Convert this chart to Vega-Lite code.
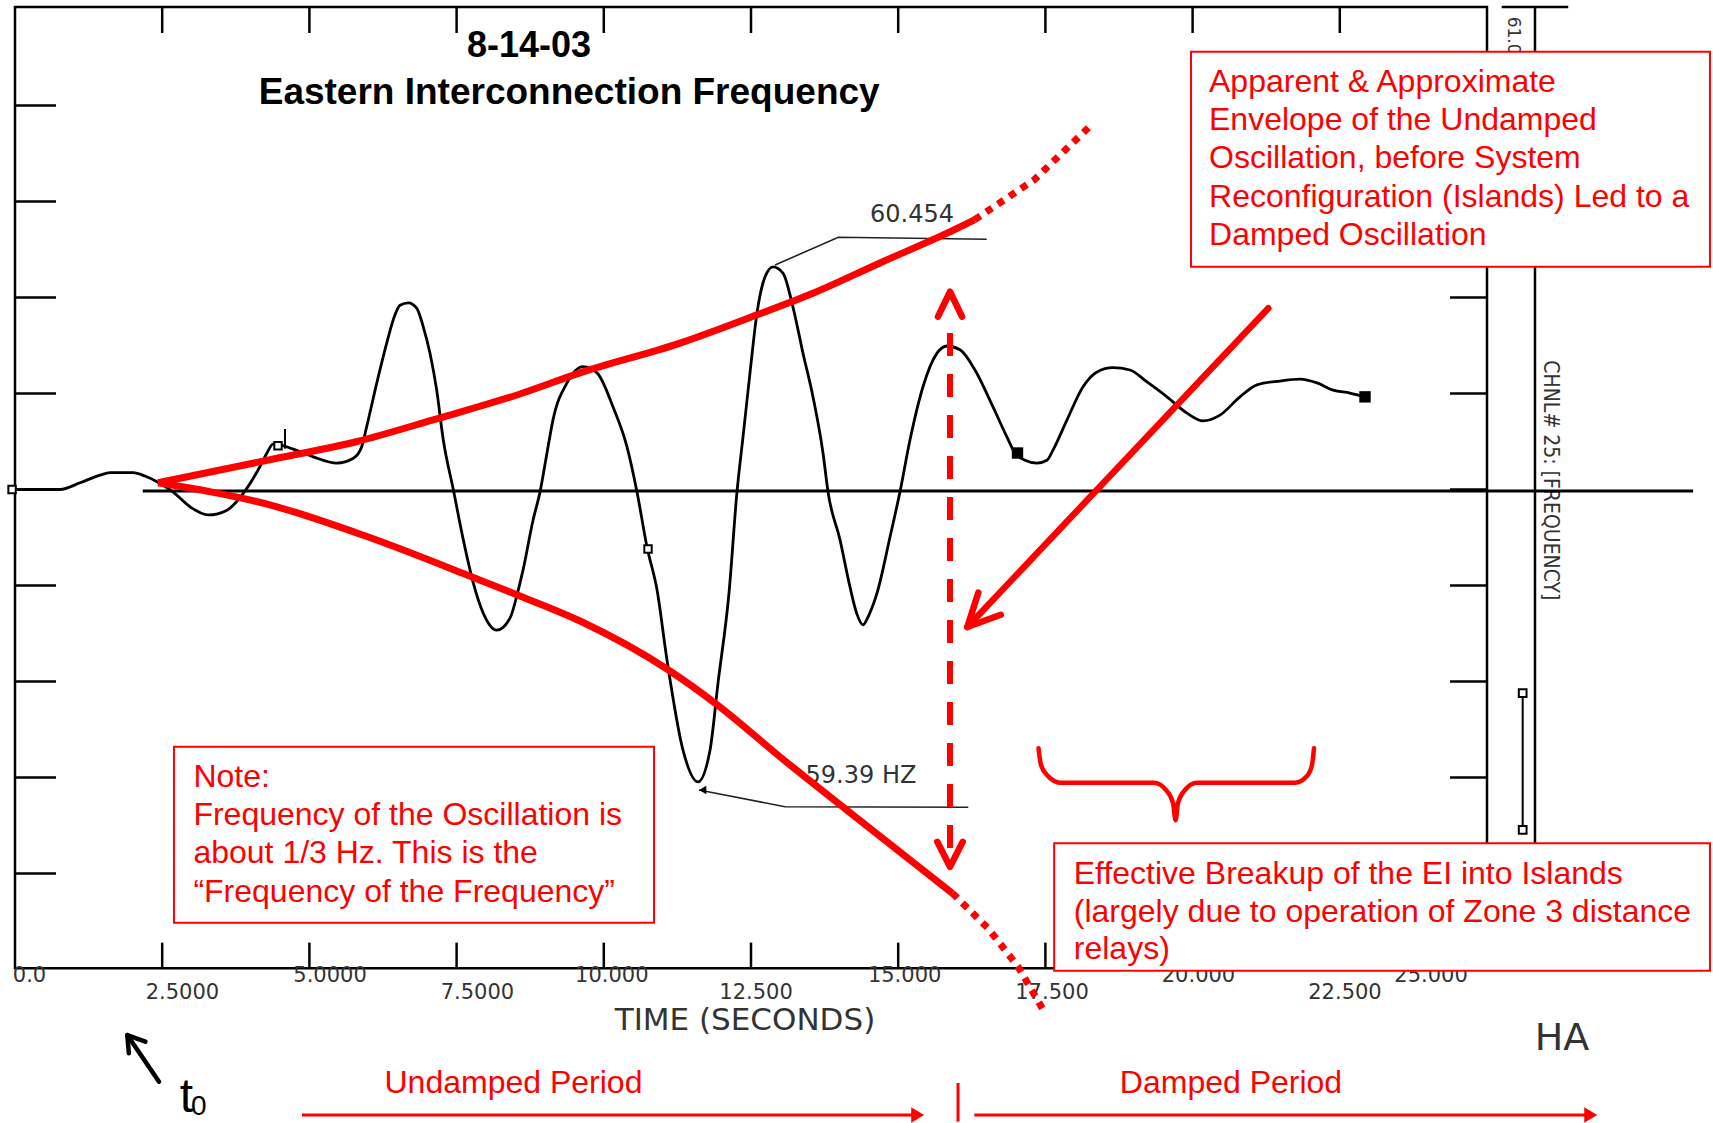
{
  "$schema": "https://vega.github.io/schema/vega-lite/v6.json",
  "width": 1472,
  "height": 960,
  "autosize": {"type": "none"},
  "padding": {"left": 15, "top": 9.5, "right": 226, "bottom": 153.5},
  "background": "white",
  "config": {"view": {"stroke": null}, "axis": {"disable": true}},
  "data": {"values": [{}]},
  "datasets": {
    "trace": [
      {"t": 0, "f": 60.0}, {"t": 0.764, "f": 60.0}, {"t": 1.104, "f": 60.014}, {"t": 1.444, "f": 60.03}, {"t": 1.613, "f": 60.035},
      {"t": 2.004, "f": 60.035}, {"t": 2.208, "f": 60.028}, {"t": 2.412, "f": 60.016}, {"t": 2.683, "f": 59.995}, {"t": 2.972, "f": 59.964},
      {"t": 3.283, "f": 59.947}, {"t": 3.601, "f": 59.957}, {"t": 3.877, "f": 59.992}, {"t": 4.161, "f": 60.048}, {"t": 4.275, "f": 60.075},
      {"t": 4.387, "f": 60.095}, {"t": 4.727, "f": 60.084}, {"t": 5.066, "f": 60.068}, {"t": 5.464, "f": 60.055}, {"t": 5.746, "f": 60.065},
      {"t": 5.888, "f": 60.089}, {"t": 5.973, "f": 60.131}, {"t": 6.143, "f": 60.221}, {"t": 6.313, "f": 60.305}, {"t": 6.454, "f": 60.364},
      {"t": 6.539, "f": 60.384}, {"t": 6.68, "f": 60.389}, {"t": 6.822, "f": 60.378}, {"t": 6.934, "f": 60.339}, {"t": 7.048, "f": 60.284},
      {"t": 7.162, "f": 60.207}, {"t": 7.274, "f": 60.103}, {"t": 7.444, "f": 60.0}, {"t": 7.614, "f": 59.895}, {"t": 7.784, "f": 59.805},
      {"t": 7.954, "f": 59.742}, {"t": 8.181, "f": 59.707}, {"t": 8.407, "f": 59.732}, {"t": 8.548, "f": 59.791}, {"t": 8.628, "f": 59.832},
      {"t": 8.798, "f": 59.936}, {"t": 8.917, "f": 59.995}, {"t": 9.035, "f": 60.076}, {"t": 9.137, "f": 60.145}, {"t": 9.375, "f": 60.222},
      {"t": 9.647, "f": 60.256}, {"t": 9.885, "f": 60.243}, {"t": 10.157, "f": 60.172}, {"t": 10.394, "f": 60.089}, {"t": 10.564, "f": 59.995},
      {"t": 10.734, "f": 59.88}, {"t": 10.904, "f": 59.791}, {"t": 11.073, "f": 59.645}, {"t": 11.345, "f": 59.457}, {"t": 11.6, "f": 59.391},
      {"t": 11.804, "f": 59.457}, {"t": 11.94, "f": 59.597}, {"t": 12.126, "f": 59.784}, {"t": 12.262, "f": 59.995}, {"t": 12.364, "f": 60.109},
      {"t": 12.483, "f": 60.243}, {"t": 12.602, "f": 60.368}, {"t": 12.738, "f": 60.443}, {"t": 12.874, "f": 60.464}, {"t": 13.043, "f": 60.451},
      {"t": 13.213, "f": 60.38}, {"t": 13.383, "f": 60.284}, {"t": 13.553, "f": 60.193}, {"t": 13.723, "f": 60.076}, {"t": 13.808, "f": 59.995},
      {"t": 14.012, "f": 59.895}, {"t": 14.181, "f": 59.797}, {"t": 14.295, "f": 59.742}, {"t": 14.402, "f": 59.718}, {"t": 14.504, "f": 59.739},
      {"t": 14.64, "f": 59.784}, {"t": 14.861, "f": 59.901}, {"t": 15.03, "f": 59.995}, {"t": 15.2, "f": 60.103}, {"t": 15.421, "f": 60.214},
      {"t": 15.659, "f": 60.284}, {"t": 15.829, "f": 60.299}, {"t": 16.05, "f": 60.291}, {"t": 16.304, "f": 60.249}, {"t": 16.61, "f": 60.172},
      {"t": 16.848, "f": 60.109}, {"t": 16.984, "f": 60.076}, {"t": 17.154, "f": 60.061}, {"t": 17.357, "f": 60.055}, {"t": 17.527, "f": 60.061},
      {"t": 17.629, "f": 60.082}, {"t": 17.867, "f": 60.145}, {"t": 18.139, "f": 60.214}, {"t": 18.376, "f": 60.245}, {"t": 18.648, "f": 60.254},
      {"t": 18.937, "f": 60.249}, {"t": 19.226, "f": 60.224}, {"t": 19.565, "f": 60.193}, {"t": 19.905, "f": 60.159}, {"t": 20.177, "f": 60.143},
      {"t": 20.465, "f": 60.155}, {"t": 20.805, "f": 60.193}, {"t": 21.094, "f": 60.218}, {"t": 21.484, "f": 60.226}, {"t": 21.824, "f": 60.23},
      {"t": 22.113, "f": 60.222}, {"t": 22.385, "f": 60.207}, {"t": 22.673, "f": 60.201}, {"t": 22.928, "f": 60.193}
    ],
    "xticks": [{"t": 2.5}, {"t": 5}, {"t": 7.5}, {"t": 10}, {"t": 12.5}, {"t": 15}, {"t": 17.5}, {"t": 20}, {"t": 22.5}],
    "yticks": [{"f": 59.2}, {"f": 59.4}, {"f": 59.6}, {"f": 59.8}, {"f": 60.0}, {"f": 60.2}, {"f": 60.4}, {"f": 60.6}, {"f": 60.8}],
    "xlabels": [
      {"t": 0, "lx": 0.246, "label": "0.0"}, {"t": 2.5, "lx": 2.843, "label": "2.5000"}, {"t": 5, "lx": 5.35, "label": "5.0000"},
      {"t": 7.5, "lx": 7.853, "label": "7.5000"}, {"t": 10, "lx": 10.136, "label": "10.000"}, {"t": 12.5, "lx": 12.585, "label": "12.500"},
      {"t": 15, "lx": 15.109, "label": "15.000"}, {"t": 17.5, "lx": 17.612, "label": "17.500"}, {"t": 20, "lx": 20.1, "label": "20.000"},
      {"t": 22.5, "lx": 22.588, "label": "22.500"}, {"t": 25, "lx": 24.049, "label": "25.000"}
    ],
    "openmarks": [{"t": -0.05, "f": 60.0}, {"t": 4.467, "f": 60.091}, {"t": 10.751, "f": 59.876}],
    "filledmarks": [{"t": 17.026, "f": 60.076}, {"t": 22.928, "f": 60.193}],
    "scalebar": [{"f": 59.576}, {"f": 59.291}],
    "leaders": [
      {"g": "a", "t": 12.908, "f": 60.4677}, {"g": "a", "t": 13.983, "f": 60.5254}, {"g": "a", "t": 16.503, "f": 60.5213},
      {"g": "b", "t": 11.617, "f": 59.374}, {"g": "b", "t": 13.077, "f": 59.339}, {"g": "b", "t": 16.191, "f": 59.338}
    ],
    "blackarrow": [
      {"g": "s", "t": 2.446, "f": 58.7663}, {"g": "s", "t": 1.907, "f": 58.8635},
      {"g": "h", "t": 1.934, "f": 58.8254}, {"g": "h", "t": 1.907, "f": 58.8635}, {"g": "h", "t": 2.214, "f": 58.8496}
    ],
    "env": [
      {"g": "up", "t": 2.429, "f": 60.014}, {"g": "up", "t": 4.45, "f": 60.065}, {"g": "up", "t": 5.808, "f": 60.1}, {"g": "up", "t": 7.099, "f": 60.145},
      {"g": "up", "t": 8.577, "f": 60.199}, {"g": "up", "t": 9.596, "f": 60.243}, {"g": "up", "t": 11.294, "f": 60.305}, {"g": "up", "t": 12.602, "f": 60.364},
      {"g": "up", "t": 13.553, "f": 60.409}, {"g": "up", "t": 14.691, "f": 60.472}, {"g": "up", "t": 15.829, "f": 60.534}, {"g": "up", "t": 16.297, "f": 60.562},
      {"g": "lo", "t": 2.429, "f": 60.014}, {"g": "lo", "t": 4.45, "f": 59.964}, {"g": "lo", "t": 5.978, "f": 59.902}, {"g": "lo", "t": 7.677, "f": 59.822},
      {"g": "lo", "t": 8.577, "f": 59.778}, {"g": "lo", "t": 9.596, "f": 59.726}, {"g": "lo", "t": 11.073, "f": 59.626}, {"g": "lo", "t": 11.973, "f": 59.547},
      {"g": "lo", "t": 12.993, "f": 59.443}, {"g": "lo", "t": 14.13, "f": 59.332}, {"g": "lo", "t": 15.92, "f": 59.159}
    ],
    "envdot": [
      {"g": "up", "t": 16.297, "f": 60.562}, {"g": "up", "t": 17.307, "f": 60.645}, {"g": "up", "t": 18.3, "f": 60.762},
      {"g": "lo", "t": 15.92, "f": 59.159}, {"g": "lo", "t": 16.525, "f": 59.086}, {"g": "lo", "t": 17.035, "f": 59.006}, {"g": "lo", "t": 17.447, "f": 58.919}
    ],
    "redarrows": [
      {"g": "upchev", "t": 15.676, "f": 60.36}, {"g": "upchev", "t": 15.88, "f": 60.412}, {"g": "upchev", "t": 16.084, "f": 60.36},
      {"g": "dnchev", "t": 15.664, "f": 59.266}, {"g": "dnchev", "t": 15.88, "f": 59.214}, {"g": "dnchev", "t": 16.096, "f": 59.266},
      {"g": "diag", "t": 21.286, "f": 60.3775}, {"g": "diag", "t": 16.174, "f": 59.7135},
      {"g": "head", "t": 16.36, "f": 59.785}, {"g": "head", "t": 16.174, "f": 59.7135}, {"g": "head", "t": 16.741, "f": 59.739}
    ],
    "brace": [
      {"t": 17.383, "f": 59.461}, {"t": 17.425, "f": 59.426}, {"t": 17.544, "f": 59.403}, {"t": 17.765, "f": 59.389},
      {"t": 19.344, "f": 59.389}, {"t": 19.548, "f": 59.374}, {"t": 19.667, "f": 59.347}, {"t": 19.711, "f": 59.311},
      {"t": 19.752, "f": 59.347}, {"t": 19.871, "f": 59.374}, {"t": 20.075, "f": 59.389}, {"t": 21.739, "f": 59.389},
      {"t": 21.943, "f": 59.403}, {"t": 22.028, "f": 59.426}, {"t": 22.062, "f": 59.461}
    ],
    "bottomarrows": [
      {"g": "u", "t": 4.874, "f": 58.697}, {"g": "u", "t": 15.331, "f": 58.697},
      {"g": "d", "t": 16.292, "f": 58.697}, {"g": "d", "t": 26.762, "f": 58.697}
    ],
    "arrowheads": [{"t": 15.331, "f": 58.697}, {"t": 26.762, "f": 58.697}]
  },
  "layer": [
    {
      "mark": {"type": "rect", "fillOpacity": 0, "stroke": "black", "strokeWidth": 2.5},
      "encoding": {"x": {"datum": 0}, "x2": {"datum": 25}, "y": {"datum": 59.0025}, "y2": {"datum": 61.005}}
    },
    {
      "data": {"name": "xticks"},
      "mark": {"type": "rule", "color": "black", "strokeWidth": 2.5},
      "encoding": {"x": {"field": "t", "type": "quantitative"}, "y": {"datum": 61.005}, "y2": {"datum": 60.951}}
    },
    {
      "data": {"name": "xticks"},
      "mark": {"type": "rule", "color": "black", "strokeWidth": 2.5},
      "encoding": {"x": {"field": "t", "type": "quantitative"}, "y": {"datum": 59.0025}, "y2": {"datum": 59.056}}
    },
    {
      "data": {"name": "yticks"},
      "mark": {"type": "rule", "color": "black", "strokeWidth": 2.5},
      "encoding": {"y": {"field": "f", "type": "quantitative"}, "x": {"datum": 0}, "x2": {"datum": 0.696}}
    },
    {
      "data": {"name": "yticks"},
      "mark": {"type": "rule", "color": "black", "strokeWidth": 2.5},
      "encoding": {"y": {"field": "f", "type": "quantitative"}, "x": {"datum": 24.372}, "x2": {"datum": 25}}
    },
    {
      "mark": {"type": "rule", "color": "black", "strokeWidth": 2.5},
      "encoding": {"x": {"datum": 25.815}, "y": {"datum": 61.005}, "y2": {"datum": 59.1}}
    },
    {
      "mark": {"type": "rule", "color": "black", "strokeWidth": 2.5},
      "encoding": {"x": {"datum": 25.25}, "x2": {"datum": 26.38}, "y": {"datum": 61.005}}
    },
    {
      "mark": {"type": "rule", "color": "black", "strokeWidth": 2},
      "encoding": {"x": {"datum": 25.606}, "y": {"datum": 59.576}, "y2": {"datum": 59.291}}
    },
    {
      "data": {"name": "scalebar"},
      "mark": {"type": "point", "shape": "square", "size": 60, "filled": true, "fill": "white", "stroke": "black", "strokeWidth": 2, "opacity": 1},
      "encoding": {"x": {"datum": 25.606}, "y": {"field": "f", "type": "quantitative"}}
    },
    {
      "data": {"name": "xlabels"},
      "transform": [{"filter": "datum.t % 5 === 0"}],
      "mark": {"type": "text", "font": "DejaVu Sans", "fontSize": 21, "color": "#333", "align": "center", "baseline": "alphabetic"},
      "encoding": {"x": {"field": "lx", "type": "quantitative"}, "y": {"datum": 58.9746}, "text": {"field": "label"}}
    },
    {
      "data": {"name": "xlabels"},
      "transform": [{"filter": "datum.t % 5 !== 0"}],
      "mark": {"type": "text", "font": "DejaVu Sans", "fontSize": 21, "color": "#333", "align": "center", "baseline": "alphabetic"},
      "encoding": {"x": {"field": "lx", "type": "quantitative"}, "y": {"datum": 58.9385}, "text": {"field": "label"}}
    },
    {
      "mark": {"type": "text", "font": "DejaVu Sans", "fontSize": 31, "color": "#333", "align": "center", "baseline": "alphabetic"},
      "encoding": {"x": {"datum": 12.398}, "y": {"datum": 58.874}, "text": {"value": "TIME (SECONDS)"}}
    },
    {
      "mark": {"type": "text", "font": "DejaVu Sans", "fontSize": 17, "color": "#333", "align": "left", "baseline": "middle", "angle": 90},
      "encoding": {"x": {"datum": 25.442}, "y": {"datum": 60.985}, "text": {"value": "61.0"}}
    },
    {
      "mark": {"type": "text", "font": "Liberation Sans Narrow, DejaVu Sans Condensed, Liberation Sans", "fontSize": 21, "color": "#333", "align": "center", "baseline": "middle", "angle": 90},
      "encoding": {"x": {"datum": 26.07}, "y": {"datum": 60.019}, "text": {"value": "CHNL# 25: [FREQUENCY]"}}
    },
    {
      "mark": {"type": "text", "font": "Liberation Sans", "fontWeight": "bold", "fontSize": 36, "color": "black", "align": "center", "baseline": "alphabetic"},
      "encoding": {"x": {"datum": 8.73}, "y": {"datum": 60.902}, "text": {"value": "8-14-03"}}
    },
    {
      "mark": {"type": "text", "font": "Liberation Sans", "fontWeight": "bold", "fontSize": 37, "color": "black", "align": "center", "baseline": "alphabetic"},
      "encoding": {"x": {"datum": 9.412}, "y": {"datum": 60.8025}, "text": {"value": "Eastern Interconnection Frequency"}}
    },
    {
      "mark": {"type": "rule", "color": "black", "strokeWidth": 3},
      "encoding": {"x": {"datum": 2.17}, "x2": {"datum": 28.5}, "y": {"datum": 59.997}}
    },
    {
      "data": {"name": "trace"},
      "mark": {"type": "line", "color": "black", "strokeWidth": 2.8, "interpolate": "monotone"},
      "encoding": {
        "x": {"field": "t", "type": "quantitative", "scale": {"domain": [0, 25], "nice": false, "zero": false}, "axis": null},
        "y": {"field": "f", "type": "quantitative", "scale": {"domain": [59, 61], "nice": false, "zero": false}, "axis": null}
      }
    },
    {
      "data": {"name": "openmarks"},
      "mark": {"type": "point", "shape": "square", "size": 55, "filled": true, "fill": "white", "stroke": "black", "strokeWidth": 2, "opacity": 1},
      "encoding": {"x": {"field": "t", "type": "quantitative"}, "y": {"field": "f", "type": "quantitative"}}
    },
    {
      "data": {"name": "filledmarks"},
      "mark": {"type": "point", "shape": "square", "size": 130, "filled": true, "color": "black", "opacity": 1},
      "encoding": {"x": {"field": "t", "type": "quantitative"}, "y": {"field": "f", "type": "quantitative"}}
    },
    {
      "mark": {"type": "rule", "color": "black", "strokeWidth": 2},
      "encoding": {"x": {"datum": 4.586}, "y": {"datum": 60.126}, "y2": {"datum": 60.085}}
    },
    {
      "data": {"name": "leaders"},
      "mark": {"type": "line", "color": "#222", "strokeWidth": 1.6},
      "encoding": {"x": {"field": "t", "type": "quantitative"}, "y": {"field": "f", "type": "quantitative"}, "detail": {"field": "g"}, "order": {"value": null}}
    },
    {
      "mark": {"type": "point", "shape": "triangle-left", "size": 70, "filled": true, "color": "black", "opacity": 1},
      "encoding": {"x": {"datum": 11.68}, "y": {"datum": 59.374}}
    },
    {
      "mark": {"type": "text", "font": "DejaVu Sans", "fontSize": 24, "color": "#333", "align": "center", "baseline": "alphabetic"},
      "encoding": {"x": {"datum": 15.234}, "y": {"datum": 60.557}, "text": {"value": "60.454"}}
    },
    {
      "mark": {"type": "text", "font": "DejaVu Sans", "fontSize": 24, "color": "#333", "align": "center", "baseline": "alphabetic"},
      "encoding": {"x": {"datum": 14.368}, "y": {"datum": 59.389}, "text": {"value": "59.39 HZ"}}
    },
    {
      "mark": {"type": "text", "font": "DejaVu Sans", "fontSize": 38, "color": "#333", "align": "center", "baseline": "alphabetic"},
      "encoding": {"x": {"datum": 26.274}, "y": {"datum": 58.832}, "text": {"value": "HA"}}
    },
    {
      "data": {"name": "blackarrow"},
      "mark": {"type": "line", "color": "black", "strokeWidth": 4.5, "strokeCap": "round", "strokeJoin": "round"},
      "encoding": {"x": {"field": "t", "type": "quantitative"}, "y": {"field": "f", "type": "quantitative"}, "detail": {"field": "g"}, "order": {"value": null}}
    },
    {
      "mark": {"type": "text", "font": "Liberation Sans", "fontSize": 48, "color": "black", "align": "center", "baseline": "alphabetic"},
      "encoding": {"x": {"datum": 2.91}, "y": {"datum": 58.704}, "text": {"value": "t"}}
    },
    {
      "mark": {"type": "text", "font": "Liberation Sans", "fontSize": 28, "color": "black", "align": "center", "baseline": "alphabetic"},
      "encoding": {"x": {"datum": 3.12}, "y": {"datum": 58.696}, "text": {"value": "0"}}
    },
    {
      "data": {"name": "env"},
      "mark": {"type": "line", "color": "#ff0000", "strokeWidth": 7, "interpolate": "monotone"},
      "encoding": {"x": {"field": "t", "type": "quantitative"}, "y": {"field": "f", "type": "quantitative"}, "detail": {"field": "g"}}
    },
    {
      "data": {"name": "envdot"},
      "mark": {"type": "line", "color": "#ff0000", "strokeWidth": 7, "strokeDash": [7, 7], "strokeCap": "butt"},
      "encoding": {"x": {"field": "t", "type": "quantitative"}, "y": {"field": "f", "type": "quantitative"}, "detail": {"field": "g"}}
    },
    {
      "mark": {"type": "rule", "color": "#ff0000", "strokeWidth": 6, "strokeDash": [23, 18], "strokeCap": "butt"},
      "encoding": {"x": {"datum": 15.88}, "y": {"datum": 60.326}, "y2": {"datum": 59.225}}
    },
    {
      "data": {"name": "redarrows"},
      "mark": {"type": "line", "color": "#ff0000", "strokeWidth": 6.5, "strokeCap": "round", "strokeJoin": "round"},
      "encoding": {"x": {"field": "t", "type": "quantitative"}, "y": {"field": "f", "type": "quantitative"}, "detail": {"field": "g"}, "order": {"value": null}}
    },
    {
      "data": {"name": "brace"},
      "mark": {"type": "line", "color": "#ff0000", "strokeWidth": 4.5, "interpolate": "monotone", "strokeCap": "round"},
      "encoding": {"x": {"field": "t", "type": "quantitative"}, "y": {"field": "f", "type": "quantitative"}}
    },
    {
      "data": {"name": "bottomarrows"},
      "mark": {"type": "line", "color": "#ff0000", "strokeWidth": 3},
      "encoding": {"x": {"field": "t", "type": "quantitative"}, "y": {"field": "f", "type": "quantitative"}, "detail": {"field": "g"}}
    },
    {
      "data": {"name": "arrowheads"},
      "mark": {"type": "point", "shape": "M-1,-1.2L1,0L-1,1.2Z", "size": 169, "filled": true, "color": "#ff0000", "opacity": 1},
      "encoding": {"x": {"field": "t", "type": "quantitative"}, "y": {"field": "f", "type": "quantitative"}}
    },
    {
      "mark": {"type": "rule", "color": "#ff0000", "strokeWidth": 3},
      "encoding": {"x": {"datum": 16.016}, "y": {"datum": 58.7635}, "y2": {"datum": 58.683}}
    },
    {
      "mark": {"type": "text", "font": "Liberation Sans", "fontSize": 32, "color": "#ff0000", "align": "center", "baseline": "alphabetic"},
      "encoding": {"x": {"datum": 8.466}, "y": {"datum": 58.7433}, "text": {"value": "Undamped Period"}}
    },
    {
      "mark": {"type": "text", "font": "Liberation Sans", "fontSize": 32, "color": "#ff0000", "align": "center", "baseline": "alphabetic"},
      "encoding": {"x": {"datum": 20.652}, "y": {"datum": 58.7433}, "text": {"value": "Damped Period"}}
    },
    {
      "mark": {"type": "rect", "fill": "white", "stroke": "#ff0000", "strokeWidth": 2},
      "encoding": {"x": {"datum": 19.973}, "x2": {"datum": 28.787}, "y": {"datum": 60.4642}, "y2": {"datum": 60.9121}}
    },
    {
      "mark": {"type": "rect", "fill": "white", "stroke": "#ff0000", "strokeWidth": 2},
      "encoding": {"x": {"datum": 2.7}, "x2": {"datum": 10.853}, "y": {"datum": 59.0975}, "y2": {"datum": 59.4642}}
    },
    {
      "mark": {"type": "rect", "fill": "white", "stroke": "#ff0000", "strokeWidth": 2},
      "encoding": {"x": {"datum": 17.649}, "x2": {"datum": 28.787}, "y": {"datum": 58.9975}, "y2": {"datum": 59.2629}}
    },
    {
      "mark": {"type": "text", "font": "Liberation Sans", "fontSize": 32, "color": "#ff0000", "align": "left", "baseline": "alphabetic", "lineHeight": 38.4},
      "encoding": {"x": {"datum": 20.279}, "y": {"datum": 60.829}, "text": {"value": ["Apparent & Approximate", "Envelope of the Undamped", "Oscillation, before System", "Reconfiguration (Islands) Led to a", "Damped Oscillation"]}}
    },
    {
      "mark": {"type": "text", "font": "Liberation Sans", "fontSize": 32, "color": "#ff0000", "align": "left", "baseline": "alphabetic", "lineHeight": 38.4},
      "encoding": {"x": {"datum": 3.03}, "y": {"datum": 59.381}, "text": {"value": ["Note:", "Frequency of the Oscillation is", "about 1/3 Hz. This is the", "\u201cFrequency of the Frequency\u201d"]}}
    },
    {
      "mark": {"type": "text", "font": "Liberation Sans", "fontSize": 32, "color": "#ff0000", "align": "left", "baseline": "alphabetic", "lineHeight": 37.7},
      "encoding": {"x": {"datum": 17.982}, "y": {"datum": 59.178}, "text": {"value": ["Effective Breakup of the EI into Islands", "(largely due to operation of Zone 3 distance", "relays)"]}}
    }
  ]
}
